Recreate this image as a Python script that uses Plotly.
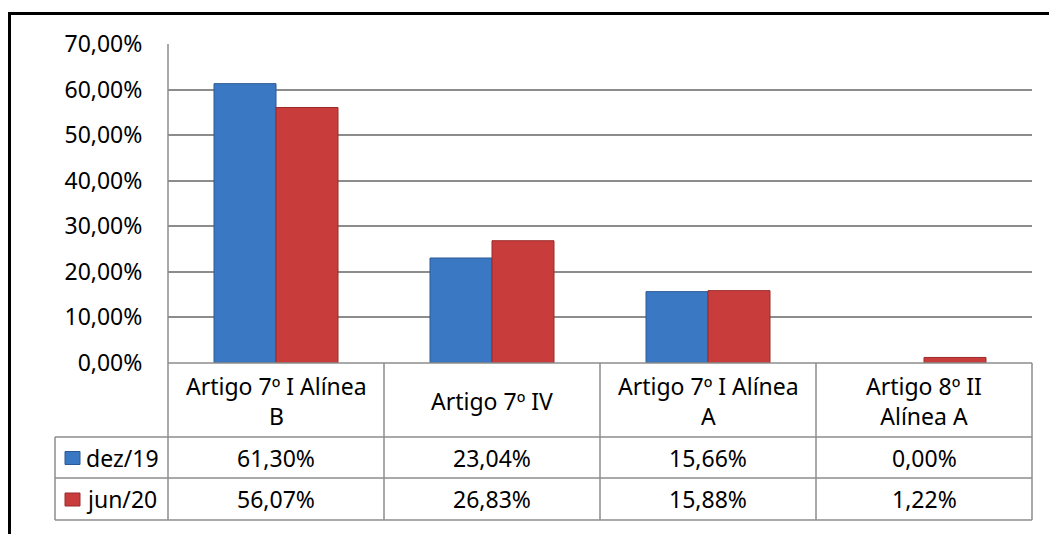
import plotly.graph_objects as go

categories = ["Artigo 7º I Alínea<br>B", "Artigo 7º IV", "Artigo 7º I Alínea<br>A", "Artigo 8º II<br>Alínea A"]
series_names = ["dez/19", "jun/20"]
dez19 = [0.6130, 0.2304, 0.1566, 0.0000]
jun20 = [0.5607, 0.2683, 0.1588, 0.0122]
y_ticks = [0, 0.1, 0.2, 0.3, 0.4, 0.5, 0.6, 0.7]

# the page body has an 8px margin, so the figure is drawn 8px in
OFF = 8
W, H = 1057 - OFF, 534 - OFF
L, R, T, B = 168, 1032, 44, 363   # plot area in screen pixels

def px(x):
    return (x - L) / (R - L)

def py(y):
    return (B - y) / (B - T)

FONT = "Noto Sans"
FS = 23
GRID = "#8c8c8c"
blue, blue_dark = "#3b78c4", "#2a5a96"
red, red_dark = "#c93c3c", "#9a2a2a"

fig = go.Figure()
for name, vals, col, dark in [(series_names[0], dez19, blue, blue_dark),
                              (series_names[1], jun20, red, red_dark)]:
    fig.add_trace(go.Bar(x=categories, y=vals, name=name,
                         marker=dict(color=col,
                                     line=dict(color=dark, width=[1 if v > 0 else 0 for v in vals]))))

shapes = []
# outer chart border (cut by the picture on right/bottom)
shapes.append(dict(type="rect", xref="paper", yref="paper",
                   x0=px(9.5), x1=px(1090), y0=py(580), y1=py(13.5),
                   line=dict(color="black", width=3), layer="above"))

def hline(y, x0, x1):
    shapes.append(dict(type="line", xref="paper", yref="paper",
                       x0=px(x0), x1=px(x1), y0=py(y), y1=py(y),
                       line=dict(color=GRID, width=1.5)))

def vline(x, y0, y1):
    shapes.append(dict(type="line", xref="paper", yref="paper",
                       x0=px(x), x1=px(x), y0=py(y0), y1=py(y1),
                       line=dict(color=GRID, width=1.5)))

# data table lines
row_y = [363, 437, 478, 520]
hline(363, L, R)
for y in row_y[1:]:
    hline(y, 55, R)
for i in range(len(categories) + 1):
    vline(L + i * (R - L) / len(categories), 363, 520)
vline(L, T, 363)
vline(55, 437, 520)

annotations = []
for c in categories:
    annotations.append(dict(x=c, xref="x", y=py(401), yref="paper", text=c,
                            showarrow=False, xanchor="center", yanchor="middle",
                            font=dict(size=FS, color="black", family=FONT)))

key_colors = [(blue, blue_dark), (red, red_dark)]
for r, (name, vals) in enumerate(zip(series_names, [dez19, jun20])):
    yc = (row_y[r + 1] + row_y[r + 2]) / 2
    for c, v in zip(categories, vals):
        txt = f"{v * 100:.2f}%".replace(".", ",")
        annotations.append(dict(x=c, xref="x", y=py(yc), yref="paper", text=txt,
                                showarrow=False, xanchor="center", yanchor="middle",
                                font=dict(size=FS, color="black", family=FONT)))
    annotations.append(dict(x=px(84), xref="paper", y=py(yc), yref="paper", text=name,
                            showarrow=False, xanchor="left", yanchor="middle",
                            font=dict(size=FS, color="black", family=FONT)))
    col, dark = key_colors[r]
    shapes.append(dict(type="rect", xref="paper", yref="paper",
                       x0=px(65), x1=px(80), y0=py(yc + 7), y1=py(yc - 6),
                       fillcolor=col, line=dict(color=dark, width=1)))

fig.update_layout(
    width=W, height=H, autosize=False,
    margin=dict(l=L - OFF, r=1057 - R, t=T - OFF, b=534 - B),
    paper_bgcolor="white", plot_bgcolor="white",
    separators=",.",
    barmode="group", bargap=0.426, bargroupgap=0,
    showlegend=False,
    font=dict(family=FONT, size=FS, color="black"),
    xaxis=dict(showticklabels=False, showgrid=False, zeroline=False,
               showline=False, ticks="", range=[-0.5, 3.5]),
    yaxis=dict(range=[0, 0.7], tickvals=y_ticks, tickformat=".2%",
               showgrid=True, gridcolor=GRID, gridwidth=1.5,
               zeroline=False, showline=False,
               ticks="outside", ticklen=20, tickcolor="rgba(0,0,0,0)",
               tickfont=dict(size=FS, color="black", family=FONT)),
    shapes=shapes,
    annotations=annotations,
)

fig.write_html("out.html")
